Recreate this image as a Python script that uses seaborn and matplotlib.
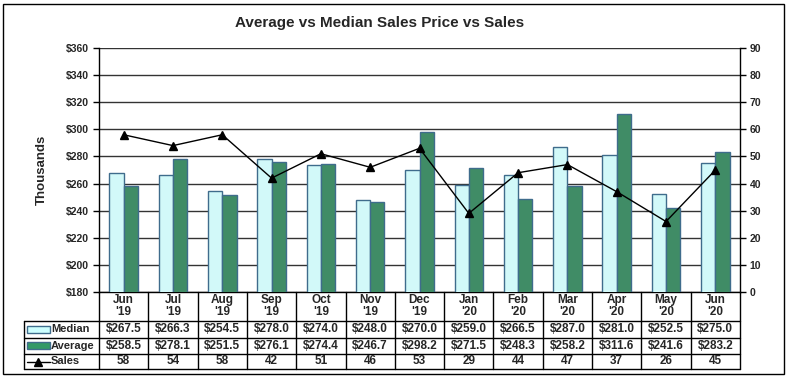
import matplotlib
matplotlib.use("Agg")
import matplotlib.pyplot as plt
import seaborn as sns
import pandas as pd
from matplotlib.lines import Line2D
from matplotlib.patches import Rectangle

months = ["Jun\n'19", "Jul\n'19", "Aug\n'19", "Sep\n'19", "Oct\n'19", "Nov\n'19", "Dec\n'19",
          "Jan\n'20", "Feb\n'20", "Mar\n'20", "Apr\n'20", "May\n'20", "Jun\n'20"]
median = [267.5, 266.3, 254.5, 278.0, 274.0, 248.0, 270.0, 259.0, 266.5, 287.0, 281.0, 252.5, 275.0]
average = [258.5, 278.1, 251.5, 276.1, 274.4, 246.7, 298.2, 271.5, 248.3, 258.2, 311.6, 241.6, 283.2]
sales = [58, 54, 58, 42, 51, 46, 53, 29, 44, 47, 37, 26, 45]

sns.set_theme(style="white")
plt.rcParams['font.family'] = ['Liberation Sans', 'DejaVu Sans']
plt.rcParams['font.weight'] = 'bold'

W, H = 790, 380
fig = plt.figure(figsize=(W / 100, H / 100), dpi=100)

# outer frame
fig.patches.append(Rectangle((3 / W, 6 / H), 781 / W, 370 / H, transform=fig.transFigure,
                             fill=False, edgecolor='black', linewidth=1.0))

L, R, T, B = 99, 740, 48, 292
ax = fig.add_axes([L / W, 1 - B / H, (R - L) / W, (B - T) / H])

df = pd.DataFrame({
    "month": months * 2,
    "value": median + average,
    "series": ["Median"] * len(months) + ["Average"] * len(months),
})
sns.barplot(data=df, x="month", y="value", hue="series", order=months,
            hue_order=["Median", "Average"],
            palette={"Median": "#CCFFFF", "Average": "#339966"},
            width=0.58, gap=0, legend=False, ax=ax, edgecolor="#3F6C8C", linewidth=1.0,
            zorder=3)
for p in ax.patches:
    p.set_zorder(3)

ax.set_ylim(180, 360)
ax.set_xlim(-0.5, len(months) - 0.5)
ax.set_yticks(range(180, 361, 20))
ax.set_yticklabels([f"${v}" for v in range(180, 361, 20)], fontsize=7.5, fontweight='heavy')
ax.set_xticks([])
ax.set_xlabel("")
ax.set_ylabel("Thousands", fontsize=9.5, fontweight='bold', labelpad=13)
ax.yaxis.grid(True, color='#333333', linewidth=1.0, zorder=0)
ax.tick_params(axis='y', length=4, width=1, color='black', direction='out', pad=3, left=True)
for s in ['top', 'right']:
    ax.spines[s].set_visible(False)
for s in ['left', 'bottom']:
    ax.spines[s].set_color('black')
    ax.spines[s].set_linewidth(1.0)

ax2 = ax.twinx()
ax2.plot(range(len(months)), sales, color='black', linewidth=1.0, marker='^',
         markersize=5.5, markerfacecolor='black', zorder=5)
ax2.set_ylim(0, 90)
ax2.set_yticks(range(0, 91, 10))
ax2.set_yticklabels([str(v) for v in range(0, 91, 10)], fontsize=7.5, fontweight='heavy')
ax2.tick_params(axis='y', length=4, width=1, color='black', direction='out', pad=3, right=True)
for s in ['top', 'left', 'bottom']:
    ax2.spines[s].set_visible(False)
ax2.spines['right'].set_color('black')
ax2.spines['right'].set_linewidth(1.0)
ax2.grid(False)

fig.text(0.481, 1 - 23 / H, "Average vs Median Sales Price vs Sales", ha='center', va='center',
         fontsize=11, fontweight='bold')

# data table
TB = 369
tax = fig.add_axes([L / W, 1 - TB / H, (R - L) / W, (TB - B) / H])
tax.set_xlim(-0.5, len(months) - 0.5)
tax.set_ylim(TB - B, 0)
tax.axis('off')
px = len(months) / (R - L)
xl = -0.5 - (L - 24) * px
rows = [0, 28.5, 45.5, 62, 77]
lc = dict(color='black', linewidth=1.0, clip_on=False)
for i in range(len(months) + 1):
    tax.plot([i - 0.5, i - 0.5], [0, 77], **lc)
for y in rows[1:]:
    tax.plot([xl, len(months) - 0.5], [y, y], **lc)
tax.plot([xl, xl], [rows[1], 77], **lc)

fs = 8.5
for i, m in enumerate(months):
    tax.text(i, 14, m, ha='center', va='center', fontsize=fs, fontweight='heavy', linespacing=1.1)
    tax.text(i, (rows[1] + rows[2]) / 2, f"${median[i]:.1f}", ha='center', va='center',
             fontsize=fs, fontweight='heavy')
    tax.text(i, (rows[2] + rows[3]) / 2, f"${average[i]:.1f}", ha='center', va='center',
             fontsize=fs, fontweight='heavy')
    tax.text(i, (rows[3] + rows[4]) / 2, f"{sales[i]}", ha='center', va='center',
             fontsize=fs, fontweight='heavy')

sx0 = xl + 3 * px
sw = 23 * px
tax.add_patch(Rectangle((sx0, (rows[1] + rows[2]) / 2 - 3.5), sw, 7, facecolor='#CCFFFF',
                        edgecolor='#3F6C8C', linewidth=1.0, clip_on=False))
tax.add_patch(Rectangle((sx0, (rows[2] + rows[3]) / 2 - 3.5), sw, 7, facecolor='#339966',
                        edgecolor='#3F6C8C', linewidth=1.0, clip_on=False))
ys = (rows[3] + rows[4]) / 2
tax.add_line(Line2D([sx0, sx0 + sw], [ys, ys], color='black', linewidth=1.0, clip_on=False))
tax.add_line(Line2D([sx0 + sw / 2], [ys], marker='^', markersize=5.5, color='black', clip_on=False))
tx = sx0 + sw + 1 * px
tax.text(tx, (rows[1] + rows[2]) / 2, "Median", ha='left', va='center', fontsize=8, fontweight='heavy')
tax.text(tx, (rows[2] + rows[3]) / 2, "Average", ha='left', va='center', fontsize=8, fontweight='heavy')
tax.text(tx, ys, "Sales", ha='left', va='center', fontsize=8, fontweight='heavy')

fig.savefig("out.png", dpi=100)
